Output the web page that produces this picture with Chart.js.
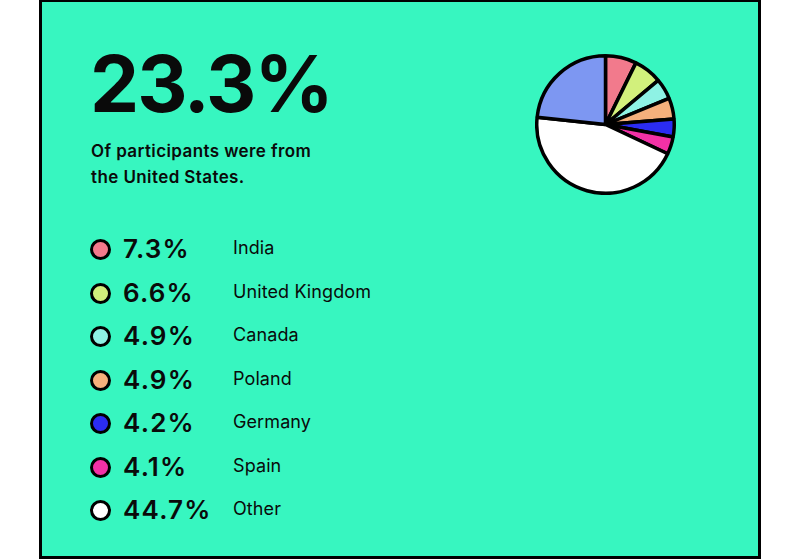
<!DOCTYPE html>
<html>
<head>
<meta charset="utf-8">
<script src="https://cdn.jsdelivr.net/npm/chart.js@4/dist/chart.umd.min.js"></script>
<style>
  body { margin: 0; width: 800px; height: 560px; background: #fff; font-family: Inter, "Noto Sans", sans-serif; color: #0a0a0a; }
  #card { position: absolute; left: 39px; top: -1px; width: 716px; height: 554px; border: 3px solid #000; background: #37f6c0; }
  #big { position: absolute; left: 48px; top: 37px; font-size: 78px; font-weight: 650; letter-spacing: -2px; line-height: 90px; }
  #sub { position: absolute; left: 49px; top: 136px; font-size: 17px; font-weight: 600; line-height: 26px; letter-spacing: 0.4px; }
  #pieBox { position: absolute; left: 493px; top: 52px; width: 141px; height: 141px; }
  .row { position: absolute; left: 0; height: 30px; width: 400px; }
  .dot { position: absolute; left: 48px; top: 5px; width: 15px; height: 15px; border: 3px solid #000; border-radius: 50%; }
  .pct { position: absolute; left: 81px; top: 0; font-size: 26px; font-weight: 600; line-height: 30px; letter-spacing: 1.2px; }
  .lab { position: absolute; left: 191px; top: 2px; font-size: 18px; font-weight: 400; line-height: 24px; letter-spacing: 0.1px; }
</style>
</head>
<body>
<div id="card">
  <div id="big"></div>
  <div id="sub">Of participants were from<br>the United States.</div>
  <div id="pieBox"><canvas id="pie"></canvas></div>
  <div id="legend"></div>
</div>
<script>
// slices in drawing order, clockwise from the top
const countries = ['India', 'United Kingdom', 'Canada', 'Poland', 'Germany', 'Spain', 'Other', 'United States'];
const shares = [7.3, 6.6, 4.9, 4.9, 4.2, 4.1, 44.7, 23.3];
const colours = ['#f27a8c', '#d2f07c', '#8ef2e4', '#f5b07c', '#2b2cf2', '#f231a6', '#ffffff', '#7d97f2'];

const main = countries.length - 1;
document.getElementById('big').textContent = shares[main] + '%';

// legend rows for everything but the headline country
const legend = document.getElementById('legend');
for (let i = 0; i < main; i++) {
    const row = document.createElement('div');
    row.className = 'row';
    row.style.top = (232 + i * 43.5) + 'px';
    row.innerHTML = '<div class="dot" style="background:' + colours[i] + '"></div>' +
        '<div class="pct">' + shares[i].toFixed(1) + '%</div>' +
        '<div class="lab">' + countries[i] + '</div>';
    legend.appendChild(row);
}

new Chart(document.getElementById('pie'), {
    type: 'pie',
    data: {
        labels: countries,
        datasets: [{
            data: shares,
            backgroundColor: colours,
            borderColor: '#000',
            borderWidth: 3.5
        }]
    },
    options: {
        responsive: true,
        maintainAspectRatio: true,
        animation: false,
        layout: { padding: 0 },
        plugins: { legend: { display: false }, tooltip: { enabled: false } }
    }
});
</script>
</body>
</html>
